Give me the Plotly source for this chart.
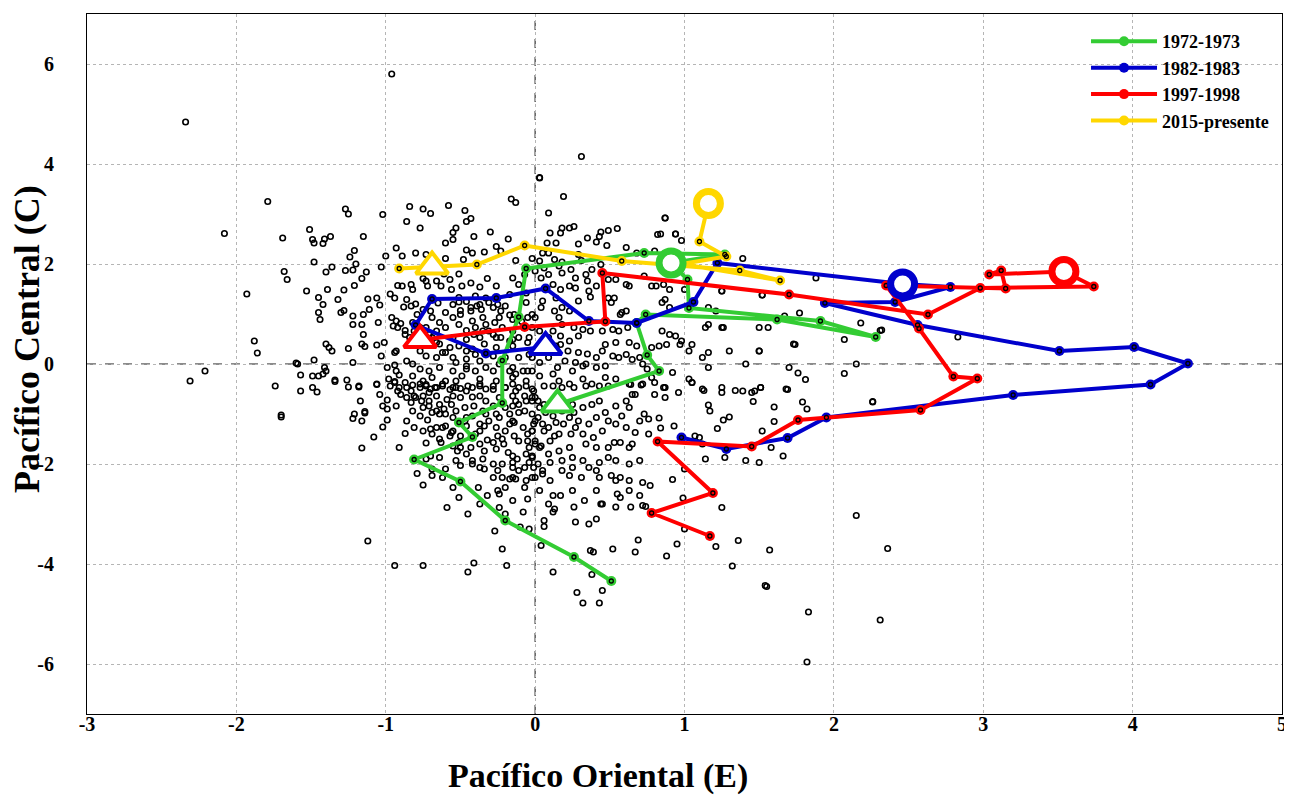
import plotly.graph_objects as go

# ---------------- background: monthly (E, C) index pairs -------------
monthly_EC = [
    # upper-left / upper area
    (-0.16,3.30),(-0.13,3.23),(-1.27,3.10),(-1.25,3.00),(-0.84,3.15),(-0.75,3.10),(-0.70,3.01),
    (-1.02,2.99),(-0.58,3.17),(-0.47,3.07),(-0.43,2.91),(-0.46,2.85),(-0.86,2.85),(-0.77,2.72),
    (-1.51,2.69),(-0.53,2.72),(-0.55,2.63),(-0.30,2.64),(-0.41,2.55),(-1.69,2.52),(-1.49,2.49),
    (-1.48,2.42),(-1.41,2.50),(-1.42,2.41),(-1.37,2.55),(-1.15,2.55),(-0.55,2.49),(-0.60,2.42),
    (-0.18,2.50),(-1.21,2.27),(-0.93,2.32),(-0.46,2.28),(-0.42,2.22),(-0.34,2.24),(-0.26,2.35),
    (-0.23,2.26),(-1.24,2.14),(-1.00,2.16),(-0.89,2.16),(-0.80,2.22),(-0.73,2.19),(-0.60,2.11),
    (-0.48,2.09),(-0.13,2.07),(-1.48,2.04),(-1.20,2.00),(-1.36,1.94),(-1.03,1.94),(-1.40,1.84),
    (-1.27,1.87),(-1.22,1.88),(-1.13,1.84),(-0.75,1.71),(-0.73,1.66),(-0.61,1.80),(-0.51,1.80),
    (-0.57,1.69),(-1.66,1.69),(-1.16,1.71),(-0.32,1.71),(-0.15,1.72),(-0.07,1.79),(-1.21,1.57),
    (-0.92,1.57),(-0.89,1.56),(-0.83,1.59),(-0.66,1.66),(-0.63,1.56),(-0.72,1.56),(-0.49,1.56),
    (-0.43,1.62),(-0.37,1.54),(-0.26,1.56),(-0.11,1.59),(-1.39,1.49),(-1.28,1.48),(-1.53,1.46),
    (-0.82,1.49),(-0.56,1.49),(-0.97,1.40),(-1.45,1.33),(-1.32,1.29),(-1.12,1.30),(-1.06,1.32),
    (-0.94,1.32),(-0.86,1.29),(-0.51,1.33),(-0.46,1.25),(-0.40,1.36),(-1.42,1.19),(-1.04,1.18),
    (-0.83,1.16),(-0.88,1.14),(-0.80,1.20),(-0.55,1.19),(-0.50,1.07),(-0.43,1.13),(-0.37,1.19),
    (-0.28,1.13),(-0.20,1.16),(-0.06,1.23),(-1.45,1.03),(-1.28,1.07),(-1.30,1.03),(-1.11,1.09),
    (-1.15,0.99),(-1.22,0.96),(-1.44,0.89),(-0.96,0.93),(-0.93,0.86),(-0.90,0.81),(-0.69,0.93),
    (-0.64,0.83),(-0.55,0.93),(-0.50,0.99),(-0.42,0.86),(-0.35,0.93),(-0.24,0.93),(-0.15,0.89),
    (-0.05,0.93),(-1.22,0.79),(-1.16,0.79),(-1.05,0.83),(-0.95,0.76),(-0.92,0.73),(-0.87,0.67),
    (-0.73,0.73),(-0.66,0.66),(-0.60,0.73),(-0.46,0.67),(-0.40,0.73),(-0.31,0.66),(-0.15,0.66),
    (-1.15,0.59),(-0.87,0.59),(-0.84,0.53),(-0.69,0.53),(-0.55,0.53),(-0.46,0.49),(-0.37,0.53),
    (-0.26,0.53),(-0.15,0.49),(-0.04,0.53),(-1.40,0.40),(-1.38,0.33),(-1.36,0.26),(-1.16,0.40),
    (-1.14,0.35),(-1.25,0.31),(-1.06,0.38),(-1.01,0.43),(-0.82,0.38),(-0.64,0.40),(-0.57,0.33),
    (-0.51,0.36),(-0.42,0.30),(-0.34,0.40),(-0.26,0.33),(-0.15,0.36),(-0.94,0.23),(-0.93,0.26),
    (-1.03,0.16),(-0.73,0.16),(-0.66,0.13),(-0.55,0.13),(-0.46,0.10),(-0.37,0.06),(-0.11,0.13),
    (-0.04,0.19),(-1.48,0.08),(-1.22,0.03),(-1.59,0.00),(-1.41,-0.07),(-1.40,-0.14),(-0.99,-0.07),
    (-0.94,-0.02),(-0.77,-0.10),(-0.71,-0.14),(-0.64,-0.07),(-1.57,-0.22),(-1.49,-0.24),
    (-1.45,-0.24),(-1.42,-0.20),(-0.93,-0.14),(-0.91,-0.22),(-1.34,-0.32),(-1.26,-0.32),
    (-0.98,-0.30),(-0.94,-0.35),(-0.82,-0.24),(-0.75,-0.34),(-0.69,-0.27),(-0.60,-0.34),
    (-0.49,-0.24),(-0.37,-0.30),(-0.26,-0.34),(-0.15,-0.27),(-0.06,-0.34),(-1.18,-0.46),
    (-1.06,-0.40),(-0.79,0.99),(-0.75,1.09),(-0.70,1.06),(-0.60,1.03),(-0.65,1.22),(-0.33,1.32),
    (-0.17,1.39),(-0.06,1.42),(-0.14,0.99),(-0.07,0.73),(-0.02,0.73),(-0.33,0.79),(-0.27,0.83),
    (-0.22,0.73),(-0.51,0.79),(-0.75,0.53),(-0.81,0.66),(-0.77,0.26),(-0.62,0.23),(-0.46,0.26),
    (-0.40,0.19),(-0.28,0.16),(-0.20,0.13),(-0.15,-0.07),(-0.08,-0.14),(-0.28,-0.14),(-0.55,-0.14),
    (-0.46,-0.10),(-0.86,0.06),(-0.82,0.00),(-0.73,-0.44),(-0.66,-0.47),(-0.55,-0.47),(-0.42,-0.47),
    (-0.33,-0.50),(-0.20,-0.47),(-0.11,-0.47),
    (-0.51,1.24),(-0.43,1.06),(-0.39,1.16),(-0.36,1.09),(-0.31,1.23),(-0.25,1.19),(-0.23,1.06),
    (-0.17,0.98),(-0.12,0.89),(-0.09,0.85),(-0.41,0.59),(-0.35,0.66),(-0.28,0.59),(-0.23,0.53),
    (-0.17,0.46),(-0.11,0.53),(-0.05,0.43),(-0.82,0.83),(-0.77,0.73),(-0.71,0.59),(-0.66,0.43),
    (-0.60,0.23),(-0.53,0.03),(-0.46,-0.04),(-0.40,-0.14),(-0.33,-0.07),(-0.24,0.00),(-0.17,-0.14),
    (-0.13,-0.20),(-0.05,-0.14),(-0.77,-0.40),(-0.70,-0.50),(-0.62,-0.40),(-0.53,-0.34),
    (-0.45,-0.44),(-0.37,-0.40),(-0.28,-0.44),(-0.15,-0.40),(-0.02,-0.50),
    # upper-right area
    (0.03,3.72),(0.19,3.35),(0.09,3.02),(0.87,2.92),(0.18,2.72),(0.23,2.72),(0.26,2.75),(0.17,2.62),
    (0.10,2.62),(0.44,2.64),(0.49,2.67),(0.55,2.71),(0.43,2.55),(0.35,2.52),(0.41,2.44),(0.29,2.40),
    (0.48,2.37),(0.14,2.42),(0.08,2.42),(0.05,2.22),(0.09,2.22),(0.82,2.59),(0.84,2.60),(0.94,2.60),
    (0.98,2.47),(0.61,2.33),(0.68,2.22),(0.80,2.26),(-0.02,2.11),(0.03,2.06),(0.13,2.09),(0.18,2.04),
    (0.16,1.96),(0.29,2.19),(0.31,2.07),(0.38,1.89),(0.44,1.99),(0.24,1.89),(0.18,1.82),(0.27,1.72),
    (0.00,1.86),(0.04,1.72),(0.09,1.79),(0.06,1.92),(1.39,2.11),(0.54,1.69),(0.49,1.69),(0.61,1.59),
    (0.63,1.56),(0.73,1.76),(0.78,1.56),(0.81,1.56),(0.86,1.59),(0.90,1.49),(1.00,1.49),(0.34,1.79),
    (0.35,1.66),(0.41,1.56),(0.12,1.59),(0.17,1.49),(0.23,1.56),(0.27,1.52),(0.36,1.46),(0.37,1.34),
    (0.29,1.26),(0.49,1.32),(0.53,1.32),(0.51,1.23),(0.61,1.06),(0.58,1.03),(0.57,0.99),(0.87,1.29),
    (0.85,1.23),(0.90,1.13),(1.16,1.13),(1.21,1.06),(1.25,1.46),(1.52,1.38),(1.56,0.73),(1.50,0.73),
    (1.16,0.79),(1.14,0.73),(1.26,0.73),(1.74,0.39),(1.67,0.96),(0.14,1.32),(0.18,1.13),(0.16,0.93),
    (0.23,1.06),(0.13,1.06),(0.05,1.26),(-0.02,0.99),(0.04,1.13),(0.00,0.93),(0.18,0.79),(0.26,0.73),
    (0.32,0.69),(0.37,0.66),(0.45,0.66),(0.52,0.69),(0.56,0.66),(0.62,0.73),(0.47,0.39),(0.54,0.43),
    (0.63,0.43),(0.68,0.36),(0.29,0.56),(0.23,0.46),(0.17,0.39),(0.85,0.66),(0.90,0.59),(0.94,0.56),
    (0.98,0.46),(0.78,0.33),(0.83,0.36),(0.88,0.39),(0.97,0.39),(1.03,0.26),(1.05,0.39),(1.12,0.13),
    (1.16,0.23),(1.30,0.26),(1.50,0.26),(1.25,0.73),(0.09,0.53),(0.05,0.33),(0.14,0.36),(0.29,0.23),
    (0.35,0.20),(0.41,0.13),(0.45,0.26),(0.52,0.16),(0.56,0.13),(0.61,0.19),(0.65,0.09),(0.20,0.06),
    (0.27,0.03),(0.34,0.00),(0.41,-0.07),(0.47,-0.04),(0.70,0.13),(0.72,0.00),(0.75,-0.10),
    (0.78,-0.27),(0.92,-0.17),(1.03,-0.30),(1.05,-0.37),(1.16,-0.07),(1.41,0.00),(1.70,-0.07),
    (-0.02,-0.14),(0.03,-0.24),(0.12,-0.20),(0.16,-0.34),(0.23,-0.40),(0.32,-0.30),(0.38,-0.40),
    (0.47,-0.27),(0.54,-0.30),(0.63,-0.40),(0.72,-0.40),(0.87,-0.47),(1.12,-0.50),(1.25,-0.47),
    (-0.02,0.13),(0.00,0.23),(0.87,2.92),(0.94,2.60),(1.52,1.38),(1.77,1.02),(2.18,0.82),(1.88,1.72),
    (2.32,0.68),(2.07,0.49),(2.15,0.00),(1.73,0.40),(1.50,0.26),(1.76,-0.18),(1.81,-0.31),
    (2.07,-0.19),(2.26,-0.75),(1.68,-0.50),(1.51,-0.47),(1.47,-0.54),(1.39,-0.54),(1.60,-0.86),
    (2.83,0.54),(1.25,1.46),
    (0.03,0.66),(0.07,0.46),(0.12,0.66),(0.17,0.56),(0.22,0.26),(0.09,0.13),(0.15,-0.07),
    (0.03,0.03),(0.25,-0.14),(0.32,-0.04),
    # lower-left area
    (-1.70,-1.06),(-1.57,-0.54),(-1.49,-0.47),(-1.46,-0.56),(-1.34,-0.35),(-1.25,-0.46),
    (-1.18,-0.44),(-1.06,-0.41),(-1.17,-0.74),(-1.22,-1.09),(-1.21,-1.00),(-1.14,-0.95),
    (-1.14,-0.98),(-1.02,-0.84),(-0.99,-0.90),(-0.99,-0.72),(-0.93,-0.84),(-0.99,-1.12),
    (-1.02,-1.26),(-1.08,-1.46),(-0.87,-1.39),(-1.16,-1.68),(-0.91,-1.67),(-0.73,-1.58),
    (-0.97,-0.44),(-0.94,-0.37),(-0.91,-0.47),(-0.87,-0.37),(-0.82,-0.42),(-0.77,-0.47),
    (-0.73,-0.41),(-0.67,-0.47),(-0.62,-0.44),(-0.57,-0.51),(-0.53,-0.47),(-0.50,-0.49),
    (-0.90,-0.61),(-0.86,-0.67),(-0.83,-0.77),(-0.80,-0.67),(-0.75,-0.64),(-0.71,-0.74),
    (-0.66,-0.64),(-0.64,-0.81),(-0.61,-0.90),(-0.56,-0.81),(-0.60,-1.00),(-0.64,-1.00),
    (-0.50,-0.67),(-0.47,-0.87),(-0.42,-0.66),(-0.37,-0.64),(-0.33,-0.74),(-0.28,-0.84),
    (-0.24,-0.67),(-0.75,-0.87),(-0.72,-1.12),(-0.70,-1.30),(-0.66,-1.27),(-0.62,-1.27),
    (-0.60,-1.24),(-0.55,-1.34),(-0.64,-1.50),(-0.63,-1.57),(-0.55,-1.64),(-0.52,-1.74),
    (-0.50,-1.67),(-0.56,-1.37),(-0.57,-1.44),(-0.50,-1.44),(-0.37,-1.20),(-0.34,-1.24),
    (-0.32,-1.52),(-0.26,-1.27),(-0.25,-1.44),(-0.20,-1.34),(-0.17,-1.20),(-0.14,-1.17),
    (-0.28,-1.57),(-0.26,-1.70),(-0.21,-1.60),(-0.18,-1.77),(-0.15,-1.84),(-0.12,-1.90),
    (-0.06,-1.80),(-0.11,-1.54),(-0.05,-1.54),(-0.08,-1.27),(-0.02,-1.34),(0.00,-1.60),
    (-0.04,-1.67),(-0.17,-1.00),(-0.15,-0.84),(-0.11,-0.81),(-0.06,-0.74),(-0.02,-0.67),
    (0.02,-0.74),(-0.07,-0.64),(-0.13,-0.54),(-0.06,-0.44),(-0.42,-1.93),(-0.37,-2.07),
    (-0.34,-2.10),(-0.28,-2.27),(-0.25,-2.13),(-0.25,-2.53),(-0.24,-2.60),(-0.22,-2.27),
    (-0.17,-2.30),(-0.15,-2.27),(-0.13,-2.30),(-0.07,-2.47),(-0.05,-2.70),(-0.04,-1.97),
    (-0.01,-2.07),(0.00,-2.27),(-0.50,-2.03),(-0.42,-2.00),(-0.79,-2.19),(-0.75,-2.42),
    (-0.69,-2.10),(-0.69,-2.23),(-0.62,-2.27),(-0.55,-2.47),(-0.51,-2.67),(-0.45,-3.00),
    (-0.38,-2.47),(-0.32,-2.63),(-0.59,-2.87),(-0.27,-3.34),(-0.22,-3.70),(-0.19,-4.03),
    (-0.10,-3.26),(-0.04,-3.30),(-0.41,-3.98),(-0.45,-4.16),(-0.75,-4.03),(-1.12,-3.54),
    (-0.73,-1.90),(-0.70,-1.84),(-1.04,-0.61),(-0.83,-0.54),(-0.71,-0.57),(-0.55,-0.64),
    (-0.46,-0.54),(-0.37,-0.44),(-0.28,-0.51),(-0.20,-0.47),(-0.15,-0.64),(-0.11,-0.97),
    (-0.15,-1.14),(-0.26,-1.00),(-0.33,-1.00),(-0.42,-1.04),(-0.47,-1.14),(-0.55,-1.07),
    (-0.69,-0.97),(-0.77,-1.04),(-0.82,-0.94),(-0.86,-1.14),(-0.81,-1.27),(-0.75,-1.34),
    (-0.69,-1.40),(-0.40,-1.40),(-0.37,-1.60),(-0.34,-1.74),(-0.46,-1.80),(-0.53,-1.93),
    (-0.64,-1.87),(-0.60,-2.10),(-0.15,-2.07),(-0.11,-2.13),(-0.06,-2.33),(-0.20,-2.47),
    (-0.15,-2.73),(-0.24,-2.87),(-0.08,-2.96),(-0.37,-2.80),(-0.20,-3.00),
    (-0.92,-0.54),(-0.86,-0.47),(-0.81,-0.64),(-0.76,-0.74),(-0.71,-0.84),(-0.66,-0.94),
    (-0.59,-0.71),(-0.53,-0.94),(-0.46,-1.07),(-0.41,-0.84),(-0.35,-0.94),(-0.31,-1.14),
    (-0.24,-1.07),(-0.20,-0.87),(-0.13,-0.74),(-0.07,-0.94),(-0.02,-1.00),(-0.01,-1.20),
    (-0.05,-1.40),(-0.14,-1.44),(-0.22,-1.50),(-0.37,-1.34),(-0.46,-1.24),(-0.51,-1.57),
    (-0.43,-1.67),(-0.35,-1.90),(-0.28,-2.00),(-0.22,-2.00),(-0.15,-1.97),(-0.07,-2.07),
    (-0.02,-1.84),
    # lower-right area
    (0.06,-0.44),(0.12,-0.44),(0.18,-0.47),(0.26,-0.47),(0.34,-0.44),(0.43,-0.44),(0.49,-0.44),
    (0.64,-0.41),(0.71,-0.42),(0.80,-0.37),(0.86,-0.47),(0.87,-0.67),(0.80,-0.61),(0.67,-0.61),
    (0.96,-0.57),(1.05,-0.37),(1.13,-0.53),(1.25,-0.57),(1.34,-0.53),(1.45,-0.57),(1.51,-0.47),
    (1.69,-0.51),(1.16,-0.82),(1.17,-0.94),(1.46,-0.75),(1.30,-1.06),(1.26,-1.12),(1.60,-1.15),
    (1.52,-1.34),(1.79,-0.76),(0.73,-1.00),(0.76,-1.10),(0.83,-1.08),(0.84,-1.28),(0.93,-1.24),
    (1.22,-1.29),(1.07,-1.44),(1.10,-1.47),(1.12,-1.60),(1.58,-1.67),(1.66,-1.84),(1.50,-1.97),
    (1.41,-1.93),(1.14,-1.90),(1.27,-1.87),(0.32,-0.87),(0.38,-0.81),(0.43,-0.74),(0.47,-0.97),
    (0.54,-0.84),(0.61,-0.74),(0.65,-0.61),(0.63,-0.87),(0.58,-1.04),(-0.02,-0.74),(0.03,-0.87),
    (0.07,-0.97),(0.12,-1.04),(0.18,-0.94),(0.23,-1.07),(0.26,-0.97),(-0.02,-1.34),(0.00,-1.54),
    (0.04,-1.64),(0.10,-1.54),(0.16,-1.40),(0.24,-1.40),(0.32,-1.40),(0.39,-1.47),(0.45,-1.34),
    (0.53,-1.57),(0.57,-1.57),(0.65,-1.60),(0.67,-1.37),(-0.02,-1.87),(0.02,-2.00),(0.05,-2.13),
    (0.10,-1.97),(0.16,-1.74),(0.18,-1.93),(0.25,-1.87),(0.32,-1.93),(0.36,-2.07),(0.43,-1.97),
    (0.49,-1.87),(0.54,-1.93),(0.63,-2.00),(0.70,-1.93),(-0.02,-2.27),(0.05,-2.20),(0.10,-2.33),
    (0.18,-2.13),(0.23,-2.23),(0.31,-2.27),(0.43,-2.27),(0.51,-2.23),(0.57,-2.27),(0.63,-2.33),
    (0.72,-2.37),(0.77,-2.43),(0.03,-2.53),(0.12,-2.63),(0.17,-2.63),(0.25,-2.53),(0.33,-2.73),
    (0.41,-2.53),(0.45,-2.80),(0.55,-2.60),(0.57,-2.67),(0.63,-2.53),(0.70,-2.63),(0.09,-2.80),
    (0.13,-2.90),(0.12,-2.96),(0.26,-2.86),(0.44,-2.80),(0.54,-2.86),(0.64,-2.86),(0.72,-2.83),
    (0.74,-2.85),(0.06,-3.13),(0.06,-3.25),(0.27,-3.16),(0.36,-3.20),(0.41,-3.10),(0.04,-3.63),
    (0.37,-3.73),(0.39,-3.76),(0.52,-3.70),(0.67,-3.76),(0.69,-3.52),(0.88,-3.84),(0.95,-3.60),
    (0.12,-4.16),(0.28,-4.57),(0.32,-4.78),(0.38,-4.21),(0.43,-4.78),(0.45,-4.53),(1.00,-2.10),
    (0.99,-2.68),(1.00,-3.30),(0.92,-2.31),(1.25,-2.87),(1.21,-3.65),(1.36,-3.53),(1.57,-3.72),
    (1.32,-4.04),(1.55,-4.45),(-0.01,-0.54),(0.02,-1.07),(0.05,-1.20),(0.09,-1.27),(0.14,-1.17),
    (0.29,-1.14),(0.36,-1.20),(0.41,-1.07),(0.49,-1.14),(0.54,-1.20),(0.61,-1.27),(0.70,-1.14),
    (0.76,-1.40),(0.49,-1.67),(0.63,-1.67),(0.23,-1.67),
    (0.00,-0.67),(0.06,-0.81),(0.13,-0.71),(0.18,-0.74),(0.25,-0.81),(0.00,-1.14),(0.06,-1.34),
    (0.13,-1.44),(0.19,-1.20),(0.27,-1.27),(0.34,-1.60),(0.41,-1.67),(0.03,-1.67),(0.09,-1.80),
    (0.25,-2.07),(0.41,-2.13),(0.54,-2.33),
    # isolated outliers
    (-2.34,4.84),(-0.96,5.80),(-2.08,2.61),(-1.79,3.25),(0.31,4.15),(0.03,3.73),(-2.31,-0.34),
    (-2.21,-0.14),(-1.93,1.40),(-1.88,0.46),(-1.86,0.22),(-1.74,-0.44),(-1.70,-1.02),(-1.68,1.85),
    (-1.60,0.02),(-1.16,-1.14),(-0.94,-4.03),(1.82,-0.90),(2.15,-3.03),(2.36,-3.69),(2.31,-5.12),
    (1.83,-4.96),(1.82,-5.96),(1.54,-4.43),(2.31,0.67),(2.26,-0.76),
]
scatter_E = [p[0] for p in monthly_EC]
scatter_C = [p[1] for p in monthly_EC]

# ---------------- El Nino trajectories (E, C) -------------------------------------------
series_names = ["1972-1973", "1982-1983", "1997-1998", "2015-presente"]
series_colors = ["#33CC33", "#0000CC", "#FF0000", "#FFD700"]

E_1972 = [0.15, 0.83, 0.75, 0.68, 0.74, 1.62, 2.28, 1.91, 1.03, 1.02, 0.91, 1.27, 0.73,
          -0.06, -0.11, -0.22, -0.22, -0.51, -0.42, -0.81, -0.50, -0.20, 0.26, 0.51]
C_1972 = [-0.81, -0.14, 0.18, 0.82, 0.99, 0.89, 0.54, 0.86, 1.12, 1.69, 2.02, 2.19, 2.22,
          1.91, 0.94, 0.07, -0.78, -1.17, -1.46, -1.91, -2.35, -3.13, -3.86, -4.34]

E_1982 = [0.07, -0.33, -0.80, -0.69, -0.26, 0.07, 0.36, 0.68, 1.06, 1.22, 2.46, 2.78, 2.41,
          1.94, 2.56, 3.51, 4.01, 4.37, 4.12, 3.20, 1.95, 1.69, 1.28, 0.98]
C_1982 = [0.34, 0.21, 0.78, 1.30, 1.32, 1.51, 0.86, 0.82, 1.24, 2.02, 1.60, 1.54, 1.24,
          1.22, 0.78, 0.26, 0.34, 0.01, -0.41, -0.62, -1.07, -1.48, -1.70, -1.47]

E_1997 = [-0.77, -0.07, 0.47, 0.45, 1.70, 2.63, 2.98, 3.74, 3.54, 3.04, 3.12, 3.15, 2.35,
          2.57, 2.80, 2.96, 2.58, 1.76, 1.45, 0.82, 1.19, 0.78, 1.17]
C_1997 = [0.48, 0.74, 0.85, 1.82, 1.39, 0.99, 1.52, 1.55, 1.85, 1.79, 1.87, 1.51, 1.57,
          0.71, -0.25, -0.29, -0.92, -1.12, -1.65, -1.55, -2.58, -2.98, -3.44]

E_2015 = [-0.91, -0.69, -0.39, -0.07, 0.58, 1.37, 1.64, 0.98, 1.28, 1.10, 1.16]
C_2015 = [1.91, 1.95, 1.99, 2.37, 2.06, 1.87, 1.67, 2.00, 2.15, 2.45, 3.21]

start_index = [0, 0, 0, 1]      # month marked with a triangle
marked_index = [10, 10, 8, 10]  # month marked with a large ring

E_series = [E_1972, E_1982, E_1997, E_2015]
C_series = [C_1972, C_1982, C_1997, C_2015]

x_ticks = [-3, -2, -1, 0, 1, 2, 3, 4, 5]
y_ticks = [-6, -4, -2, 0, 2, 4, 6]

SERIF = "Liberation Serif, Times New Roman, serif"

fig = go.Figure()

fig.add_trace(go.Scatter(
    x=scatter_E, y=scatter_C, mode="markers", showlegend=False, hoverinfo="skip",
    marker=dict(symbol="circle-open", size=5.5, color="black", line=dict(width=1.6, color="black")),
))

for name, col, ex, cy in zip(series_names, series_colors, E_series, C_series):
    fig.add_trace(go.Scatter(
        x=ex, y=cy, mode="lines+markers", name=name,
        line=dict(color=col, width=4),
        marker=dict(symbol="circle", size=10, color=col, line=dict(width=0)),
    ))

for ex, cy in zip(E_series, C_series):
    fig.add_trace(go.Scatter(
        x=ex, y=cy, mode="markers", showlegend=False, hoverinfo="skip",
        marker=dict(symbol="circle-open", size=4, color="black", line=dict(width=1.3, color="black")),
    ))

for col, ex, cy, si, mi in zip(series_colors, E_series, C_series, start_index, marked_index):
    fig.add_trace(go.Scatter(
        x=[ex[si]], y=[cy[si]], mode="markers", showlegend=False, hoverinfo="skip",
        marker=dict(symbol="triangle-up", size=28, color="white", line=dict(width=4, color=col)),
    ))
    fig.add_trace(go.Scatter(
        x=[ex[mi]], y=[cy[mi]], mode="markers", showlegend=False, hoverinfo="skip",
        marker=dict(symbol="circle", size=24, color="white", line=dict(width=7, color=col)),
    ))

axis_common = dict(
    showline=True, linecolor="black", linewidth=1.2, mirror=True,
    showgrid=True, gridcolor="#b5b5b5", gridwidth=1, griddash="dot",
    zeroline=False, ticks="", ticklabeloverflow="allow",
    tickfont=dict(family=SERIF, size=20, color="black", weight="bold"),
)

fig.update_layout(
    width=1284, height=789,
    margin=dict(l=79, r=7, t=5, b=83),
    plot_bgcolor="white", paper_bgcolor="white",
    xaxis=dict(range=[-3, 5], tickvals=x_ticks, ticktext=[str(v) for v in x_ticks],
               ticklabelstandoff=-8, **axis_common),
    yaxis=dict(range=[-7, 7], tickvals=y_ticks, ticktext=[str(v) for v in y_ticks],
               ticklabelstandoff=28, **axis_common),
    legend=dict(x=0.836, y=0.987, xanchor="left", yanchor="top", itemwidth=66,
                bgcolor="rgba(0,0,0,0)", borderwidth=0, tracegroupgap=0,
                font=dict(family=SERIF, size=18, color="black", weight="bold")),
    annotations=[
        dict(text="Pacífico Oriental (E)", xref="paper", yref="paper", x=0.4274, y=-0.088,
             xanchor="center", yanchor="middle", showarrow=False,
             font=dict(family=SERIF, size=34, color="black", weight="bold")),
        dict(text="Pacífico Central (C)", xref="paper", yref="paper", x=-0.050, y=0.536,
             xanchor="center", yanchor="middle", showarrow=False, textangle=-90,
             font=dict(family=SERIF, size=36, color="black", weight="bold")),
    ],
    shapes=[
        dict(type="line", xref="x", yref="paper", x0=0, x1=0, y0=0, y1=1,
             line=dict(color="#333333", width=1.2, dash="dash"), layer="below"),
        dict(type="line", xref="paper", yref="y", x0=0, x1=1, y0=0, y1=0,
             line=dict(color="#666666", width=1.5, dash="dash"), layer="below"),
    ],
)

fig.write_html("out.html")
